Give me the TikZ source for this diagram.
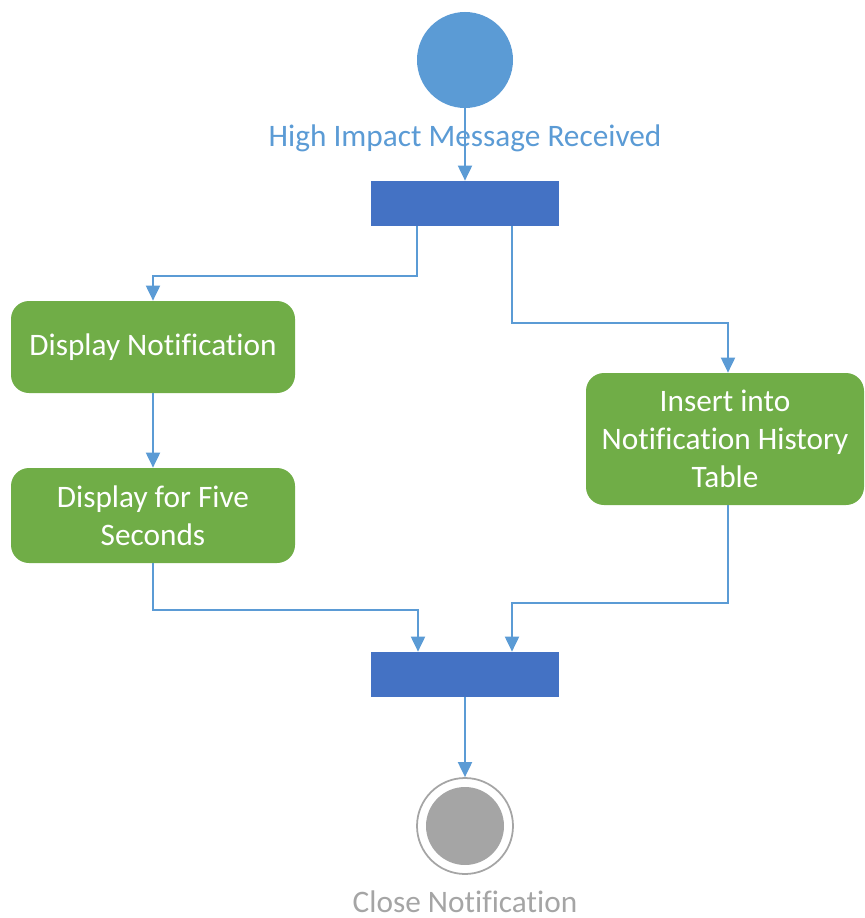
\documentclass[tikz,border=0pt]{standalone}
\usepackage{fontspec}
\setmainfont[Ligatures=NoCommon]{Carlito}
\usetikzlibrary{arrows.meta}
\definecolor{startblue}{HTML}{5B9BD5}
\definecolor{barblue}{HTML}{4472C4}
\definecolor{actgreen}{HTML}{70AD47}
\definecolor{endgray}{HTML}{A5A5A5}
\begin{document}
\begin{tikzpicture}[
    flow/.style={draw=startblue, line width=1.1pt, -{Triangle[width=0.28cm,length=0.3cm]}},
    activity/.style={fill=actgreen, rounded corners=0.36cm, text=white, align=center,
        font=\fontsize{17.8}{21.8}\selectfont, inner sep=0pt},
    syncbar/.style={fill=barblue, minimum width=3.76cm, minimum height=0.9cm, inner sep=0pt},
    caption/.style={font=\fontsize{17.8}{21.8}\selectfont}
]
    \useasboundingbox (0,0) rectangle (17.28,-18.36);

    % start and fork
    \node[circle, fill=startblue, minimum size=1.92cm, inner sep=0pt] (start) at (9.30,-1.20) {};
    \node[caption, text=startblue] (startlbl) at (9.30,-2.76) {High Impact Message Received};
    \node[syncbar] (fork) at (9.30,-4.07) {};

    % activities
    \node[activity, minimum width=5.68cm, minimum height=1.84cm] (disp) at (3.06,-6.94) {Display Notification};
    \node[activity, minimum width=5.68cm, minimum height=1.90cm] (five) at (3.06,-10.31) {Display for Five\\Seconds};
    \node[activity, minimum width=5.56cm, minimum height=2.64cm] (ins) at (14.50,-8.78) {Insert into\\Notification History\\Table};

    % join and end
    \node[syncbar] (join) at (9.30,-13.49) {};
    \node[circle, draw=endgray, line width=1pt, minimum size=1.92cm, inner sep=0pt] (stop) at (9.30,-16.52) {};
    \node[circle, fill=endgray, minimum size=1.56cm, inner sep=0pt] (stopdot) at (stop) {};
    \node[caption, text=endgray, inner sep=1pt] (stoplbl) at (9.30,-18.04) {Close Notification};

    % connectors
    \draw[flow] (start) -- (fork);
    \draw[flow] ([xshift=-0.96cm]fork.south) -- ++(0,-1.0) -| (disp.north);
    \draw[flow] ([xshift=0.94cm]fork.south) -- ++(0,-1.94) -| ([xshift=0.06cm]ins.north);
    \draw[flow] (disp) -- (five);
    \draw[flow] (five.south) -- ++(0,-0.94) -| ([xshift=-0.94cm]join.north);
    \draw[flow] ([xshift=0.06cm]ins.south) -- ++(0,-1.96) -| ([xshift=0.94cm]join.north);
    \draw[flow] (join) -- (stop);
\end{tikzpicture}
\end{document}
